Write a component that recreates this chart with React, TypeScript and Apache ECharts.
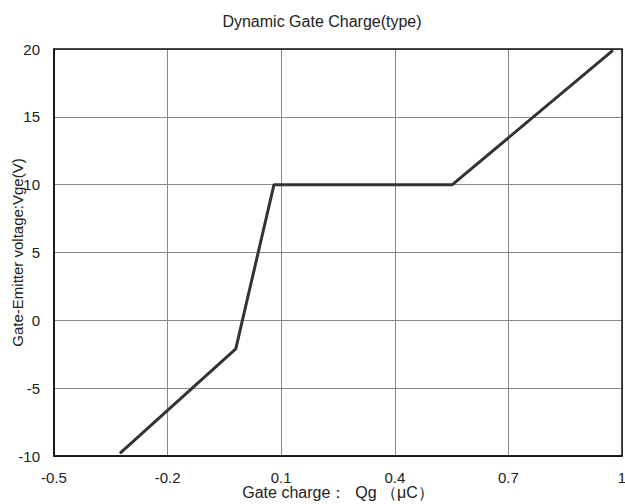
import React, { useEffect, useRef } from "react";
import * as echarts from "echarts";

const chargeQg = [-0.326, -0.02, 0.081, 0.552, 0.976];
const voltageVge = [-9.8, -2.1, 10, 10, 19.9];
const xTicks = [-0.5, -0.2, 0.1, 0.4, 0.7, 1.0];
const yTicks = [-10, -5, 0, 5, 10, 15, 20];

const FONT = "'Liberation Sans', Arial, sans-serif";

export default function App() {
  const ref = useRef<HTMLDivElement>(null);
  useEffect(() => {
    if (!ref.current) return;
    const chart = echarts.init(ref.current, null, { renderer: "svg" });
    const data = chargeQg.map((x, i) => [x, voltageVge[i]]);
    chart.setOption({
      animation: false,
      backgroundColor: "#ffffff",
      title: {
        text: "Dynamic Gate Charge(type)",
        left: 317,
        top: 8,
        textAlign: "center",
        textStyle: { fontFamily: FONT, fontSize: 16, fontWeight: "normal", color: "#222" },
      },
      grid: { left: 54, right: 3, top: 49, bottom: 48, containLabel: false, outerBoundsMode: "none" },
      xAxis: {
        type: "value",
        min: xTicks[0],
        max: xTicks[xTicks.length - 1],
        interval: 0.3,
        name: "Gate charge：  Qg （μC）",
        nameLocation: "middle",
        nameGap: 28,
        nameMoveOverlap: false,
        nameTextStyle: { fontFamily: FONT, fontSize: 16, color: "#222" },
        axisLine: { show: true, onZero: false, lineStyle: { color: "#111", width: 1.5 } },
        axisTick: { show: false },
        axisLabel: {
          fontFamily: FONT,
          fontSize: 15,
          color: "#222",
          margin: 14,
          formatter: (v: number) => {
            const r = Math.round(v * 10) / 10;
            return xTicks.some((t) => Math.abs(t - r) < 1e-6) ? String(r) : "";
          },
        },
        splitLine: { show: true, lineStyle: { color: "#888", width: 1 } },
      },
      yAxis: {
        type: "value",
        min: yTicks[0],
        max: yTicks[yTicks.length - 1],
        interval: 5,
        name: "Gate-Emitter voltage:Vge(V)",
        nameLocation: "middle",
        nameGap: 29,
        nameMoveOverlap: false,
        nameTextStyle: { fontFamily: FONT, fontSize: 15, color: "#222" },
        axisLine: { show: true, onZero: false, lineStyle: { color: "#111", width: 1.5 } },
        axisTick: { show: false },
        axisLabel: { fontFamily: FONT, fontSize: 15, color: "#222", margin: 14 },
        splitLine: { show: true, lineStyle: { color: "#888", width: 1 } },
      },
      graphic: [
        {
          type: "rect",
          shape: { x: 54, y: 49, width: 568, height: 407 },
          style: { fill: "none", stroke: "#111", lineWidth: 1.5 },
          silent: true,
          z: 10,
        },
      ],
      series: [
        {
          type: "line",
          data,
          showSymbol: false,
          symbol: "none",
          lineStyle: { color: "#333", width: 3 },
          z: 5,
        },
      ],
    });
    return () => chart.dispose();
  }, []);
  return <div ref={ref} style={{ width: 625, height: 504, position: "absolute", left: 0, top: 0 }} />;
}
